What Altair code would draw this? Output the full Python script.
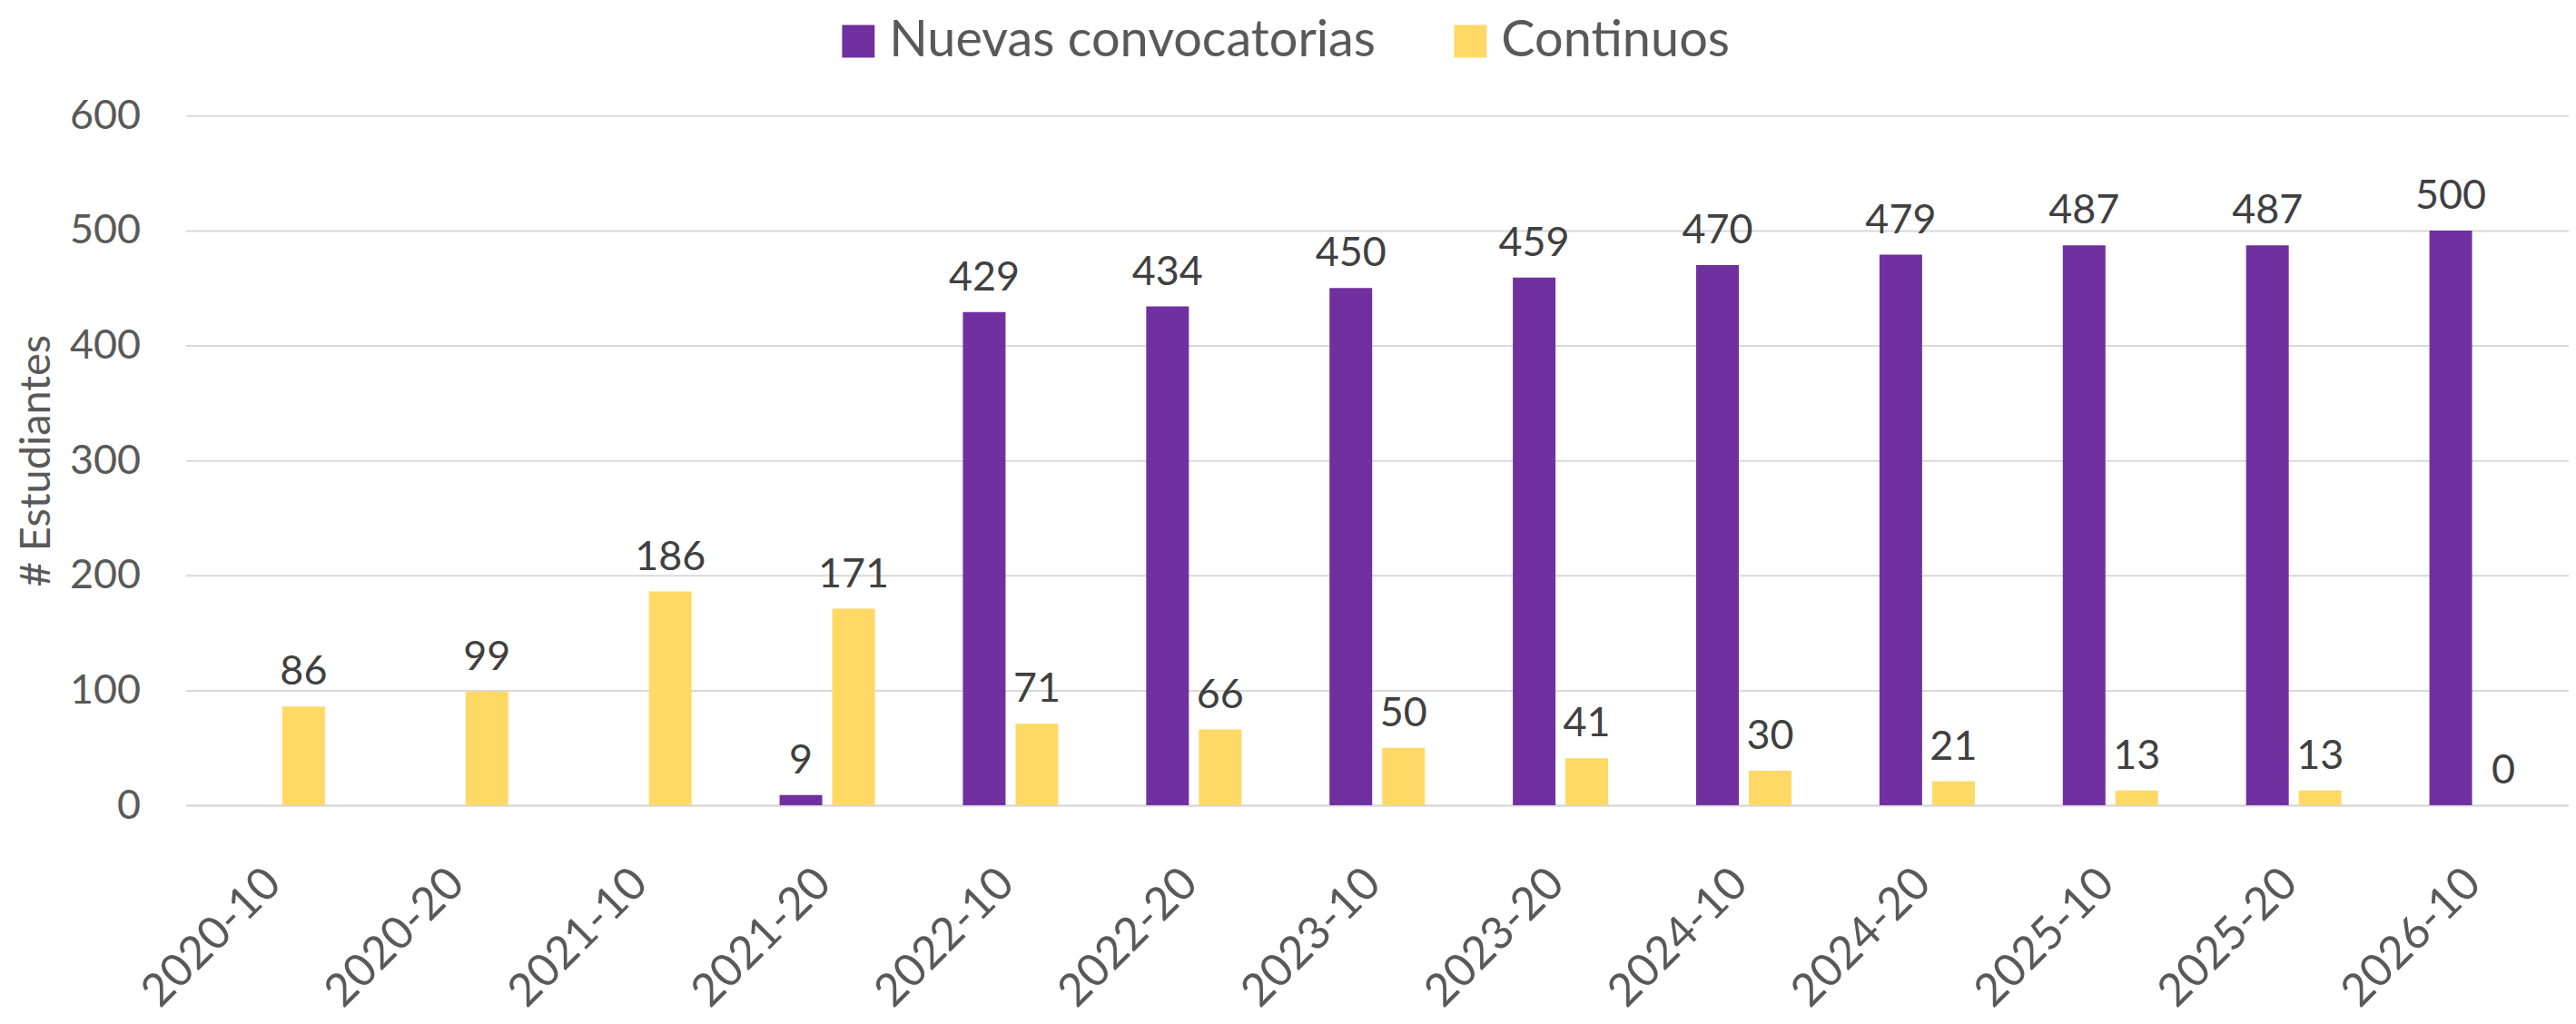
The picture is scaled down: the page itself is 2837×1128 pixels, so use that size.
import altair as alt
import pandas as pd

periods = ["2020-10", "2020-20", "2021-10", "2021-20", "2022-10", "2022-20", "2023-10",
           "2023-20", "2024-10", "2024-20", "2025-10", "2025-20", "2026-10"]
nuevas = [None, None, None, 9, 429, 434, 450, 459, 470, 479, 487, 487, 500]
continuos = [86, 99, 186, 171, 71, 66, 50, 41, 30, 21, 13, 13, 0]
series_names = ["Nuevas convocatorias", "Continuos"]
series_colors = ["#7030A0", "#FFD966"]
y_ticks = [0, 100, 200, 300, 400, 500, 600]

rows = []
for p, n, c in zip(periods, nuevas, continuos):
    if n is not None:
        rows.append({"periodo": p, "serie": series_names[0], "valor": n})
    if c is not None:
        rows.append({"periodo": p, "serie": series_names[1], "valor": c})
df = pd.DataFrame(rows)

FONT = "Lato"

x_enc = alt.X(
    "periodo:N",
    sort=periods,
    title=None,
    scale=alt.Scale(paddingInner=0.48, paddingOuter=0.24),
    axis=alt.Axis(
        labelAngle=-45,
        labelFontSize=50,
        labelFont=FONT,
        labelColor="#595959",
        labelAlign="right",
        labelBaseline="middle",
        labelPadding=78,
        labelOffset=-4,
        labelLimit=0,
        ticks=False,
        domain=True,
        domainColor="#D9D9D9",
        domainWidth=2,
        grid=False,
    ),
)
xoff_enc = alt.XOffset(
    "serie:N",
    sort=series_names,
    scale=alt.Scale(domain=series_names, paddingInner=0.19, paddingOuter=0),
)
y_enc = alt.Y(
    "valor:Q",
    title="# Estudiantes",
    scale=alt.Scale(domain=[0, 600], nice=False),
    axis=alt.Axis(
        values=y_ticks,
        labelFontSize=45,
        labelFont=FONT,
        labelColor="#595959",
        labelPadding=50,
        ticks=False,
        domain=False,
        grid=True,
        gridColor="#D9D9D9",
        gridWidth=2,
        titleFontSize=47,
        titleFont=FONT,
        titleColor="#595959",
        titleFontWeight="normal",
        titlePadding=12,
    ),
)

bars = alt.Chart(df).mark_bar().encode(
    x=x_enc,
    xOffset=xoff_enc,
    y=y_enc,
    color=alt.Color(
        "serie:N",
        sort=series_names,
        scale=alt.Scale(domain=series_names, range=series_colors),
        legend=alt.Legend(
            title=None,
            orient="none",
            legendX=715,
            legendY=-110,
            direction="horizontal",
            columns=2,
            symbolType="square",
            symbolSize=1296,
            symbolStrokeWidth=0,
            labelFontSize=56,
            labelFont=FONT,
            labelColor="#595959",
            labelOffset=6,
            labelLimit=0,
            columnPadding=76,
            padding=0,
        ),
    ),
)

labels = alt.Chart(df).mark_text(
    dy=-24, baseline="alphabetic", align="center", fontSize=45, font=FONT, color="#404040"
).encode(
    x=alt.X("periodo:N", sort=periods),
    xOffset=alt.XOffset("serie:N", sort=series_names),
    y=alt.Y("valor:Q"),
    text=alt.Text("valor:Q", format="d"),
)

chart = (
    alt.layer(bars, labels)
    .properties(
        width=2632,
        height=762,
        autosize=alt.AutoSizeParams(type="none"),
        padding={"left": 197, "top": 118, "right": 0, "bottom": 236},
        background="white",
    )
    .configure_view(stroke=None)
)

chart.save("out.html", embed_options={"renderer": "svg", "actions": False})
